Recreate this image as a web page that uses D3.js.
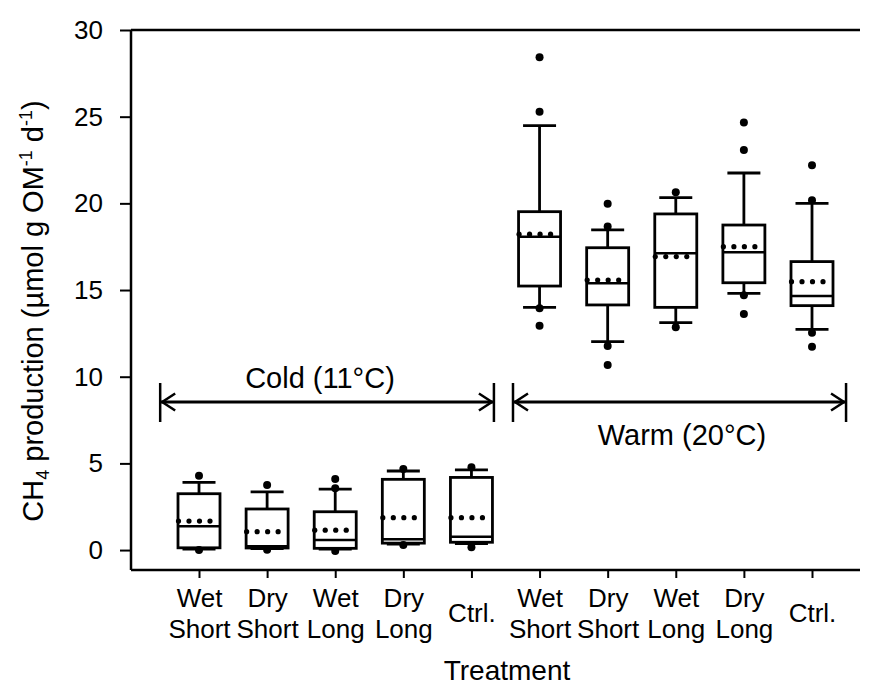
<!DOCTYPE html>
<html>
<head>
<meta charset="utf-8">
<script src="https://cdn.jsdelivr.net/npm/d3@7"></script>
<style>
  html, body { margin: 0; padding: 0; background: #fff; }
  svg { display: block; font-family: "Liberation Sans", Arial, sans-serif; }
</style>
</head>
<body>
<svg id="chart" width="869" height="686"></svg>
<script>
// Treatment categories (two-line labels), cold incubation first, then warm
const labelTop    = ["Wet", "Dry", "Wet", "Dry", "", "Wet", "Dry", "Wet", "Dry", ""];
const labelBottom = ["Short", "Short", "Long", "Long", "", "Short", "Short", "Long", "Long", ""];
const labelSingle = ["", "", "", "", "Ctrl.", "", "", "", "", "Ctrl."];

// Box statistics per treatment (µmol g OM⁻¹ d⁻¹)
const whiskerLow  = [0.05, 0.08, 0.05, 0.35, 0.38, 14.0, 12.02, 13.12, 14.81, 12.73];
const q1          = [0.13, 0.12, 0.10, 0.40, 0.45, 15.23, 14.14, 14.0, 15.42, 14.1];
const median      = [1.38, 0.22, 0.58, 0.63, 0.77, 18.08, 15.39, 17.12, 17.18, 14.66];
const q3          = [3.25, 2.37, 2.21, 4.08, 4.19, 19.52, 17.44, 19.39, 18.75, 16.64];
const whiskerHigh = [3.9, 3.36, 3.52, 4.56, 4.62, 24.48, 18.47, 20.33, 21.75, 20.0];
const mean        = [1.67, 1.06, 1.15, 1.87, 1.87, 18.22, 15.58, 16.93, 17.5, 15.48];
const outliers = [
  [4.29, 0.0],
  [3.75, 0.02],
  [4.1, 3.56, -0.06],
  [4.67, 0.29],
  [4.77, 0.16],
  [28.43, 25.29, 13.95, 12.94],
  [19.97, 18.66, 11.77, 10.68],
  [20.64, 12.85],
  [24.66, 23.08, 14.7, 13.62],
  [22.2, 20.18, 12.54, 11.73]
];

// Temperature group spans (in category index units) and their labels
const groupNames = ["Cold (11°C)", "Warm (20°C)"];
const groupStart = [-0.57, 4.61];
const groupEnd   = [4.33, 9.5];
const groupArrowValue = 8.54;

const yTicks = [0, 5, 10, 15, 20, 25, 30];

const svg = d3.select("#chart");
const plotLeft = 131, plotRight = 860, plotTop = 30, plotBottom = 570;

const idx = d3.range(labelTop.length);
const x = d3.scaleLinear().domain([0, 9]).range([199, 812]);
const y = d3.scaleLinear().domain([-1.15, 30]).range([plotBottom, plotTop]);

const boxW = 42, capW = 33;
const ink = "#000";

// Frame: top line
svg.append("line")
  .attr("x1", plotLeft).attr("x2", plotRight).attr("y1", y(30)).attr("y2", y(30))
  .attr("stroke", ink).attr("stroke-width", 2.5);

// Y axis
const yAxis = svg.append("g")
  .attr("transform", `translate(${plotLeft},0)`)
  .call(d3.axisLeft(y).tickValues(yTicks).tickSize(11).tickPadding(17).tickFormat(d3.format("d")));
yAxis.select(".domain").attr("stroke-width", 2.5).attr("d", `M0,${plotTop}V${plotBottom}`);
yAxis.selectAll(".tick line").attr("stroke-width", 2);
yAxis.selectAll(".tick text")
  .attr("font-size", 26).attr("fill", ink)
  .attr("font-family", "'Liberation Sans', Arial, sans-serif");

// X axis
const xAxis = svg.append("g")
  .attr("transform", `translate(0,${plotBottom})`)
  .call(d3.axisBottom(x).tickValues(idx).tickSize(8).tickFormat(""));
xAxis.select(".domain").attr("stroke-width", 2.5).attr("d", `M${plotLeft},0H${plotRight}`);
xAxis.selectAll(".tick line").attr("stroke-width", 2);
xAxis.selectAll(".tick").each(function(d) {
  const g = d3.select(this);
  const t = g.append("text")
    .attr("text-anchor", "middle").attr("font-size", 26).attr("fill", ink)
    .attr("font-family", "'Liberation Sans', Arial, sans-serif");
  if (labelSingle[d]) {
    t.append("tspan").attr("x", 0).attr("y", 52).text(labelSingle[d]);
  } else {
    t.append("tspan").attr("x", 0).attr("y", 36.7).text(labelTop[d]);
    t.append("tspan").attr("x", 0).attr("y", 68.3).text(labelBottom[d]);
  }
});

// Axis titles
svg.append("text")
  .attr("x", 507).attr("y", 680)
  .attr("text-anchor", "middle").attr("font-size", 28).attr("fill", ink)
  .text("Treatment");

const yTitle = svg.append("text")
  .attr("transform", "translate(43,311) rotate(-90)")
  .attr("text-anchor", "middle").attr("font-size", 29).attr("fill", ink);
yTitle.append("tspan").text("CH");
yTitle.append("tspan").attr("font-size", 18).attr("dy", 6).text("4");
yTitle.append("tspan").attr("dy", -6).text(" production (µmol g OM");
yTitle.append("tspan").attr("font-size", 18).attr("dy", -11).text("-1");
yTitle.append("tspan").attr("dy", 11).text(" d");
yTitle.append("tspan").attr("font-size", 18).attr("dy", -11).text("-1");
yTitle.append("tspan").attr("dy", 11).text(")");

// Boxes
const boxes = svg.append("g").selectAll("g").data(idx).join("g");

boxes.append("line") // whisker stem
  .attr("x1", d => x(d)).attr("x2", d => x(d))
  .attr("y1", d => y(whiskerLow[d])).attr("y2", d => y(whiskerHigh[d]))
  .attr("stroke", ink).attr("stroke-width", 2.8);
boxes.append("line") // upper cap
  .attr("x1", d => x(d) - capW / 2).attr("x2", d => x(d) + capW / 2)
  .attr("y1", d => y(whiskerHigh[d])).attr("y2", d => y(whiskerHigh[d]))
  .attr("stroke", ink).attr("stroke-width", 2.8);
boxes.append("line") // lower cap
  .attr("x1", d => x(d) - capW / 2).attr("x2", d => x(d) + capW / 2)
  .attr("y1", d => y(whiskerLow[d])).attr("y2", d => y(whiskerLow[d]))
  .attr("stroke", ink).attr("stroke-width", 2.8);
boxes.append("rect")
  .attr("x", d => x(d) - boxW / 2).attr("width", boxW)
  .attr("y", d => y(q3[d])).attr("height", d => y(q1[d]) - y(q3[d]))
  .attr("fill", "#fff").attr("stroke", ink).attr("stroke-width", 2.8);
boxes.append("line") // median
  .attr("x1", d => x(d) - boxW / 2).attr("x2", d => x(d) + boxW / 2)
  .attr("y1", d => y(median[d])).attr("y2", d => y(median[d]))
  .attr("stroke", ink).attr("stroke-width", 2.5);

// Mean shown as a dotted line across the box
boxes.each(function(d) {
  d3.select(this).selectAll("circle.mean").data(d3.range(4)).join("circle")
    .attr("class", "mean")
    .attr("cx", k => x(d) - boxW / 2 + k * boxW / 4 + 0.5)
    .attr("cy", y(mean[d]))
    .attr("r", 2.6).attr("fill", ink);
});

// Outlying points
boxes.each(function(d) {
  d3.select(this).selectAll("circle.out").data(outliers[d]).join("circle")
    .attr("class", "out")
    .attr("cx", x(d)).attr("cy", v => y(v))
    .attr("r", 4).attr("fill", ink);
});

// Temperature group brackets
const ay = y(groupArrowValue);
groupNames.forEach((name, i) => {
  const x0 = x(groupStart[i]), x1 = x(groupEnd[i]);
  const g = svg.append("g").attr("stroke", ink).attr("fill", "none");
  g.append("line").attr("x1", x0).attr("x2", x1).attr("y1", ay).attr("y2", ay).attr("stroke-width", 3);
  g.append("line").attr("x1", x0).attr("x2", x0).attr("y1", ay - 19).attr("y2", ay + 20).attr("stroke-width", 2.5);
  g.append("line").attr("x1", x1).attr("x2", x1).attr("y1", ay - 19).attr("y2", ay + 20).attr("stroke-width", 2.5);
  g.append("path").attr("d", `M${x0 + 15},${ay - 8.5}L${x0 + 2},${ay}L${x0 + 15},${ay + 8.5}`).attr("stroke-width", 2.5);
  g.append("path").attr("d", `M${x1 - 15},${ay - 8.5}L${x1 - 2},${ay}L${x1 - 15},${ay + 8.5}`).attr("stroke-width", 2.5);
});

svg.append("text")
  .attr("x", 320).attr("y", 388)
  .attr("text-anchor", "middle").attr("font-size", 29).attr("fill", ink)
  .text(groupNames[0]);
svg.append("text")
  .attr("x", 682).attr("y", 445)
  .attr("text-anchor", "middle").attr("font-size", 29).attr("fill", ink)
  .text(groupNames[1]);
</script>
</body>
</html>
